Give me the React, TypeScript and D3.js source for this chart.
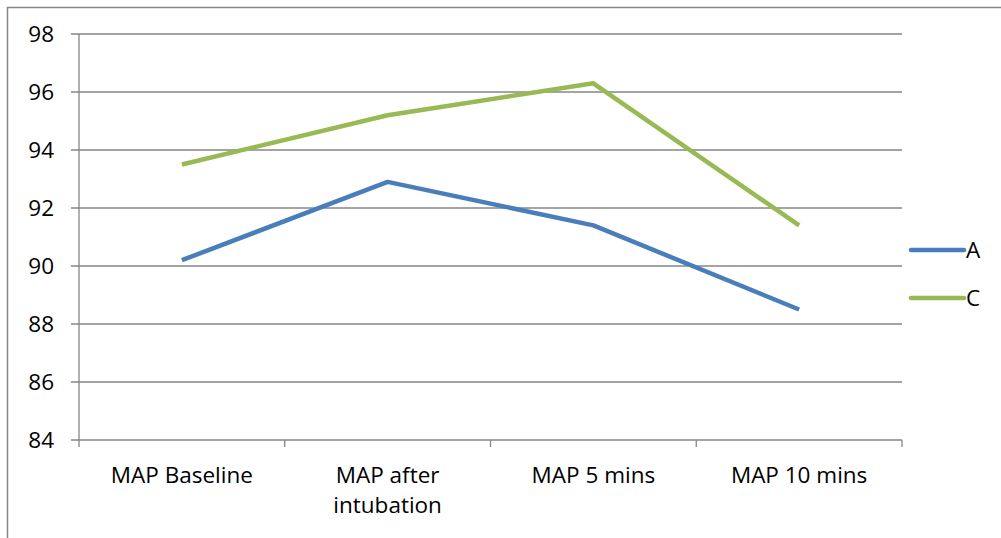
import React from "react";
import * as d3 from "d3";

const categories = ["MAP Baseline", "MAP after intubation", "MAP 5 mins", "MAP 10 mins"];
const categoryLines = [["MAP Baseline"], ["MAP after", "intubation"], ["MAP 5 mins"], ["MAP 10 mins"]];
const seriesA = [90.2, 92.9, 91.4, 88.5];
const seriesC = [93.5, 95.2, 96.3, 91.4];
const yTicks = [84, 86, 88, 90, 92, 94, 96, 98];
const seriesNames = ["A", "C"];
const seriesColors = ["#4a7ebb", "#98b954"];

const W = 1001, H = 538;
const left = 79, right = 902, top = 34, bottom = 440;
const FONT = "'Open Sans', 'Noto Sans', sans-serif";
const FS = 22.5;

export default function App() {
  const x = d3.scaleBand<string>().domain(categories).range([left, right]);
  const y = d3.scaleLinear().domain([84, 98]).range([bottom, top]);
  const line = d3.line<number>()
    .x((_, i) => (x(categories[i]) as number) + x.bandwidth() / 2)
    .y((d) => y(d));
  const all = [seriesA, seriesC];
  const grid = "#868686";
  const boundaries = [...categories.map((c) => x(c) as number), right];
  return (
    <div style={{ position: "absolute", left: 0, top: 0, width: W, height: H, background: "#fff" }}>
      <svg width={W} height={H} style={{ display: "block" }}>
        <rect x={7.5} y={7.5} width={W + 10} height={H + 10} fill="#fff" stroke={grid} strokeWidth={1.5} />
        {yTicks.map((t) => (
          <g key={t}>
            <line x1={left - 8} x2={right} y1={y(t)} y2={y(t)} stroke={grid} strokeWidth={1.3} />
            <text x={54} y={y(t)} dy="0.36em" textAnchor="end" fontFamily={FONT} fontSize={FS} fill="#000">{t}</text>
          </g>
        ))}
        <line x1={left} x2={left} y1={top} y2={bottom} stroke={grid} strokeWidth={1.3} />
        {boundaries.map((b, i) => (
          <line key={i} x1={b} x2={b} y1={bottom} y2={bottom + 7} stroke={grid} strokeWidth={1.3} />
        ))}
        {categories.map((c, i) => (
          <text key={c} textAnchor="middle" fontFamily={FONT} fontSize={FS} fill="#000">
            {categoryLines[i].map((ln, j) => (
              <tspan key={j} x={(x(c) as number) + x.bandwidth() / 2} y={483 + j * 30}>{ln}</tspan>
            ))}
          </text>
        ))}
        {all.map((s, i) => (
          <path key={i} d={line(s) || ""} fill="none" stroke={seriesColors[i]} strokeWidth={4.5} strokeLinejoin="round" strokeLinecap="butt" />
        ))}
        {seriesNames.map((n, i) => (
          <g key={n}>
            <line x1={911} x2={964} y1={250 + i * 48} y2={250 + i * 48} stroke={seriesColors[i]} strokeWidth={4.5} strokeLinecap="round" />
            <text x={966} y={250 + i * 48} dy="0.36em" fontFamily={FONT} fontSize={FS} fill="#000">{n}</text>
          </g>
        ))}
      </svg>
    </div>
  );
}
